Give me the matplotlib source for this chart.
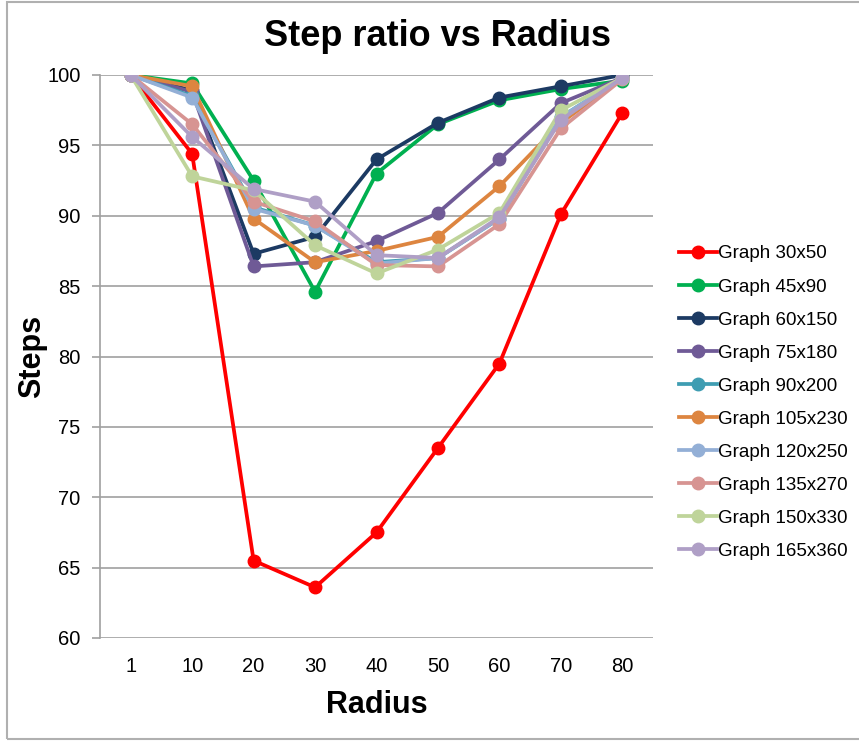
import matplotlib.pyplot as plt
from matplotlib.patches import Rectangle

plt.rcParams['font.family'] = ['Liberation Sans', 'DejaVu Sans']

radius = ['1', '10', '20', '30', '40', '50', '60', '70', '80']

labels = ['Graph 30x50', 'Graph 45x90', 'Graph 60x150', 'Graph 75x180',
          'Graph 90x200', 'Graph 105x230', 'Graph 120x250', 'Graph 135x270',
          'Graph 150x330', 'Graph 165x360']

g30x50 = [100, 94.4, 65.5, 63.6, 67.5, 73.5, 79.5, 90.1, 97.3]
g45x90 = [100, 99.4, 92.5, 84.6, 93.0, 96.5, 98.2, 99.0, 99.6]
g60x150 = [100, 98.9, 87.3, 88.5, 94.0, 96.6, 98.4, 99.2, 100]
g75x180 = [100, 98.8, 86.4, 86.7, 88.2, 90.2, 94.0, 98.0, 99.8]
g90x200 = [100, 98.5, 90.6, 89.3, 86.7, 87.0, 89.8, 97.0, 99.8]
g105x230 = [100, 99.2, 89.8, 86.7, 87.5, 88.5, 92.1, 96.6, 99.8]
g120x250 = [100, 98.4, 90.5, 89.3, 86.6, 87.0, 89.8, 97.0, 99.8]
g135x270 = [100, 96.5, 91.0, 89.6, 86.5, 86.4, 89.4, 96.2, 99.7]
g150x330 = [100, 92.8, 91.8, 87.9, 85.9, 87.6, 90.2, 97.5, 99.8]
g165x360 = [100, 95.6, 91.9, 91.0, 87.2, 87.0, 89.9, 96.8, 99.8]

series = [g30x50, g45x90, g60x150, g75x180, g90x200, g105x230,
          g120x250, g135x270, g150x330, g165x360]
colors = ['#FF0000', '#00B050', '#1C3A63', '#6F5A96', '#3E9DB2',
          '#DD8540', '#93AFD6', '#D79492', '#BFD49A', '#AF9FC6']

fig = plt.figure(figsize=(8.59, 7.41), dpi=100)
ax = fig.add_axes([100 / 859, 1 - 638 / 741, 553 / 859, 563 / 741])

x = list(range(len(radius)))
for vals, c, lab in zip(series, colors, labels):
    ax.plot(x, vals, color=c, lw=2.7, marker='o', ms=9, label=lab)

ax.set_xlim(-0.5, 8.5)
ax.set_ylim(60, 100)
ax.set_xticks(x)
ax.set_xticklabels(radius)
ax.set_yticks(range(60, 101, 5))
ax.grid(axis='y', color='#A0A0A0', lw=1.2)
ax.set_axisbelow(True)
for s in ['top', 'right', 'bottom']:
    ax.spines[s].set_visible(False)
ax.spines['left'].set_color('#A0A0A0')
ax.spines['left'].set_linewidth(1.2)
ax.tick_params(axis='x', length=0, pad=14, labelsize=14.5)
ax.tick_params(axis='y', length=6, color='#A0A0A0', width=1.2, pad=8, labelsize=14.5)

ax.set_xlabel('Radius', fontsize=22, fontweight='bold', labelpad=10)
ax.set_ylabel('Steps', fontsize=22, fontweight='bold', labelpad=0)
fig.text(437 / 859, 1 - 37 / 741, 'Step ratio vs Radius', fontsize=26,
         fontweight='bold', ha='center', va='center')

ax.legend(loc='center left', bbox_to_anchor=(1.017, 0.418), frameon=False,
          fontsize=13.5, handlelength=2.0, handletextpad=0.05,
          labelspacing=0.85)

fig.patches.append(Rectangle((7 / 859, 1 - 739 / 741), 860 / 859, 737 / 741,
                             transform=fig.transFigure, fill=False,
                             edgecolor='#B0B0B0', lw=1.5))

fig.savefig('out.png', dpi=100)
